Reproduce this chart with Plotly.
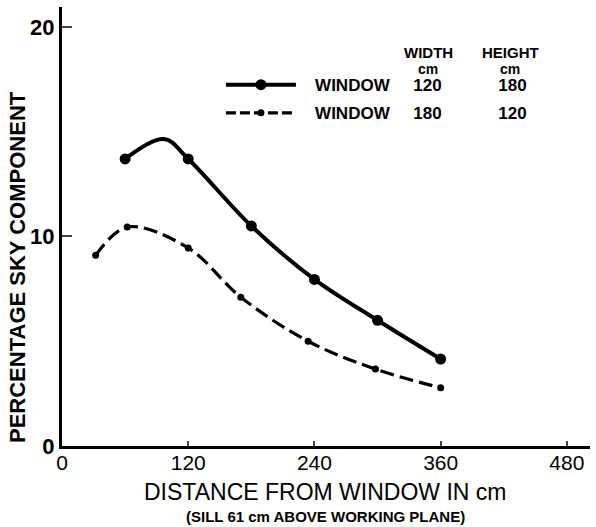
import plotly.graph_objects as go

# Window 120 cm wide x 180 cm high (solid)
solid_x = [60, 120, 180, 240, 300, 360]
solid_y = [13.7, 13.7, 10.5, 7.95, 6.0, 4.15]
# drawn curve, including the smooth peak between the first two readings
solid_curve_x = [60, 97, 120, 180, 240, 300, 360]
solid_curve_y = [13.7, 14.65, 13.7, 10.5, 7.95, 6.0, 4.15]

# Window 180 cm wide x 120 cm high (dashed)
dash_x = [32, 62, 120, 170, 234, 298, 360]
dash_y = [9.1, 10.45, 9.45, 7.1, 5.0, 3.67, 2.78]

x_ticks = [0, 120, 240, 360, 480]
y_ticks = [0, 10, 20]

legend_rows = ["WINDOW", "WINDOW"]
widths_cm = ["120", "180"]
heights_cm = ["180", "120"]

FONT = "Liberation Sans"
INK = "black"
NB = "\u00a0"

def row_label(i):
    return NB * 3 + legend_rows[i] + NB * 5 + widths_cm[i] + NB * 12 + heights_cm[i]

fig = go.Figure()

fig.add_trace(go.Scatter(x=solid_curve_x, y=solid_curve_y, mode="lines",
                         line=dict(color=INK, width=4, shape="spline", smoothing=1.0),
                         showlegend=False, hoverinfo="skip"))
fig.add_trace(go.Scatter(x=solid_x, y=solid_y, mode="markers",
                         marker=dict(color=INK, size=11), showlegend=False))
fig.add_trace(go.Scatter(x=dash_x, y=dash_y, mode="lines+markers",
                         line=dict(color=INK, width=3.2, shape="spline", smoothing=1.0, dash="14px,6px"),
                         marker=dict(color=INK, size=7), showlegend=False))

# legend entries
fig.add_trace(go.Scatter(x=[None], y=[None], mode="lines+markers", legendgroup="a",
                         line=dict(color=INK, width=4), marker=dict(color=INK, size=11),
                         name=row_label(0)))
fig.add_trace(go.Scatter(x=[None], y=[None], mode="lines+markers", legendgroup="b",
                         line=dict(color=INK, width=3.2, dash="10px,4px"), marker=dict(color=INK, size=7),
                         name=row_label(1)))

fig.update_layout(
    width=596, height=527,
    margin=dict(l=62, r=6, t=7, b=81),
    paper_bgcolor="white", plot_bgcolor="white",
    font=dict(family=FONT, color=INK, size=18),
    showlegend=True,
    legend=dict(x=0.301, y=0.863, xanchor="left", yanchor="top",
                bgcolor="rgba(0,0,0,0)", itemwidth=70, traceorder="grouped",
                font=dict(family=FONT, size=17, color=INK, weight="bold"),
                tracegroupgap=3),
    xaxis=dict(range=[0, 502], tickvals=x_ticks, ticks="inside", ticklen=5, tickwidth=2,
               showline=True, linecolor=INK, linewidth=3, showgrid=False, zeroline=False,
               automargin=False, ticklabelstandoff=-4,
               tickfont=dict(size=21, family=FONT, color=INK)),
    yaxis=dict(range=[0, 20.95], tickvals=y_ticks, ticks="inside", ticklen=10, tickwidth=2,
               showline=True, linecolor=INK, linewidth=3, showgrid=False, zeroline=False,
               automargin=False,
               tickfont=dict(size=22, family=FONT, color=INK, weight="bold")),
)

def px_x(p):
    return (p - 62) / 528

def px_y(p):
    return (446 - p) / 439

fig.add_annotation(text="PERCENTAGE SKY COMPONENT", xref="paper", yref="paper",
                   x=px_x(17), y=px_y(267), xanchor="center", yanchor="middle", textangle=-90,
                   showarrow=False, font=dict(size=22, family=FONT, color=INK, weight="bold"))
fig.add_annotation(text="DISTANCE FROM WINDOW IN cm", xref="paper", yref="paper",
                   x=px_x(325), y=px_y(492), xanchor="center", yanchor="middle",
                   showarrow=False, font=dict(size=23, family=FONT, color=INK))
fig.add_annotation(text="(SILL 61 cm ABOVE WORKING PLANE)", xref="paper", yref="paper",
                   x=px_x(325), y=px_y(516), xanchor="center", yanchor="middle",
                   showarrow=False, font=dict(size=15, family=FONT, color=INK, weight="bold"))
for cx, word in [(428, "WIDTH"), (510, "HEIGHT")]:
    fig.add_annotation(text=word, xref="paper", yref="paper",
                       x=px_x(cx), y=px_y(52), xanchor="center", yanchor="middle",
                       showarrow=False, font=dict(size=15, family=FONT, color=INK, weight="bold"))
    fig.add_annotation(text="cm", xref="paper", yref="paper",
                       x=px_x(cx), y=px_y(69), xanchor="center", yanchor="middle",
                       showarrow=False, font=dict(size=14, family=FONT, color=INK, weight="bold"))

fig.write_html("out.html", config={"displayModeBar": False},
               post_script="document.body.style.margin='0';")
